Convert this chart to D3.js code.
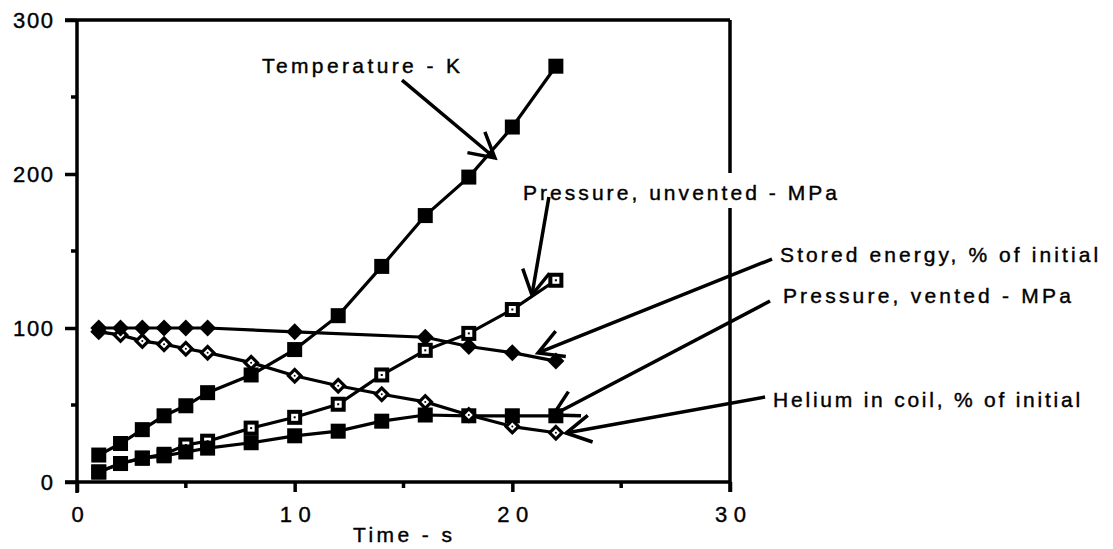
<!DOCTYPE html>
<html lang="en">
<head>
    <meta charset="UTF-8">
    <title>Quench transient - D3.js v7</title>
    <script src="https://d3js.org/d3.v7.min.js"></script>
    <style>
        body {
            margin: 0;
            background: #fff;
        }

        svg text {
            font-family: "Liberation Sans", Arial, Helvetica, sans-serif;
            fill: #000;
            stroke: #000;
            stroke-width: 0.4;
        }

        .frame,
        .arrow {
            stroke: #000;
            stroke-width: 3.5;
            fill: none;
            stroke-linecap: butt;
        }

        .series {
            fill: none;
            stroke: #000;
            stroke-width: 3.2;
        }

        .axis .domain {
            display: none;
        }

        .axis line {
            stroke: #000;
            stroke-width: 3.5;
        }
    </style>
</head>
<body>
    <div id="chart"></div>

    <script>
        // Data (time in s)
        const times = [1, 2, 3, 4, 5, 6, 8, 10, 12, 14, 16, 18, 20, 22];
        const temperature = [17.5, 25, 34, 43, 49.5, 58, 69.5, 86, 108, 140, 173, 198, 230.5, 270];
        const pressureUnvented = [6.5, 12, 15.5, 18, 24, 26.5, 35, 42, 50.5, 69.5, 85.5, 96.5, 112, 131];
        const pressureVented = [6.5, 12, 15.5, 17, 19.5, 22, 25.5, 30, 33, 39.5, 43.5, 43, 43, 43];
        const helium = [97.5, 95.5, 91.5, 89.5, 86.5, 84, 77.5, 69, 62.5, 57, 52, 43.5, 36, 32];
        const energyTimes = [1, 2, 3, 4, 5, 6, 10, 16, 18, 20, 22];
        const storedEnergy = [100, 100, 100, 100, 100, 100, 97.5, 94, 88, 84, 78.5];

        const xTicks = [0, 10, 20, 30];
        const yTicks = [0, 100, 200, 300];
        const xMinor = [5, 15, 25];
        const yMinor = [50, 150, 250];

        // labels and leader arrows, in data units
        const notes = [
            { text: "Temperature - K", lx: 8.5, ly: 265.6, len: 198, from: [14.93, 261], to: [19.2, 210.4] },
            { text: "Pressure, unvented - MPa", lx: 20.49, ly: 183.1, len: 314, from: [21.68, 185.1], to: [20.9, 121.4] },
            { text: "Stored energy, % of initial", lx: 32.3, ly: 142.9, len: 318, from: [31.93, 144.8], to: [21.18, 83.8] },
            { text: "Pressure, vented - MPa", lx: 32.43, ly: 116.2, len: 288, from: [31.84, 117.5], to: [21.87, 43.5] },
            { text: "Helium in coil, % of initial", lx: 31.98, ly: 48.7, len: 307, from: [31.61, 55.2], to: [22.47, 31.8] }
        ];

        const totalWidth = 1113, totalHeight = 549;
        const plot = { left: 77, right: 730, top: 20, bottom: 482 };

        const svg = d3.select("#chart")
            .append("svg")
            .attr("width", totalWidth)
            .attr("height", totalHeight);

        const x = d3.scaleLinear().domain([0, 30]).range([plot.left, plot.right]);
        const y = d3.scaleLinear().domain([0, 300]).range([plot.bottom, plot.top]);

        // axes (ticks + labels), frame drawn separately
        const yAxis = svg.append("g")
            .attr("class", "axis")
            .attr("transform", `translate(${plot.left},0)`)
            .call(d3.axisLeft(y).tickValues(yTicks).tickSize(12).tickPadding(12).tickFormat(d3.format("d")));

        yAxis.selectAll("text")
            .style("font-size", "22px")
            .attr("textLength", d => d === 0 ? null : 40)
            .attr("lengthAdjust", "spacing");

        const xAxis = svg.append("g")
            .attr("class", "axis")
            .attr("transform", `translate(0,${plot.bottom})`)
            .call(d3.axisBottom(x).tickValues(xTicks).tickSize(10).tickPadding(14).tickFormat(d3.format("d")));

        xAxis.selectAll("text")
            .style("font-size", "22px")
            .attr("textLength", d => d === 0 ? null : 31)
            .attr("lengthAdjust", "spacing");

        // minor ticks
        svg.append("g").selectAll("line")
            .data(yMinor)
            .join("line")
            .attr("class", "frame")
            .attr("x1", plot.left - 6).attr("x2", plot.left)
            .attr("y1", d => y(d)).attr("y2", d => y(d));

        svg.append("g").selectAll("line")
            .data(xMinor)
            .join("line")
            .attr("class", "frame")
            .attr("x1", d => x(d)).attr("x2", d => x(d))
            .attr("y1", plot.bottom).attr("y2", plot.bottom + 6);

        // frame: left, bottom, top and a right edge broken by a label
        const unventedNote = notes[1];
        const gapTop = y(unventedNote.ly) - 27, gapBottom = y(unventedNote.ly) + 8;
        const frame = [
            [[x(0), y(300)], [x(0), y(0) + 11]],
            [[x(0) - 12, y(0)], [x(30), y(0)]],
            [[x(0) - 12, y(300)], [x(30), y(300)]],
            [[x(30), y(300)], [x(30), gapTop]],
            [[x(30), gapBottom], [x(30), y(0) + 10]]
        ];
        svg.append("g").selectAll("path")
            .data(frame)
            .join("path")
            .attr("class", "frame")
            .attr("d", d3.line());

        // series
        const zip = (xs, ys) => xs.map((t, i) => ({ t: t, v: ys[i] }));
        const line = d3.line().x(d => x(d.t)).y(d => y(d.v));

        const series = [
            { data: zip(times, temperature), marker: "square" },
            { data: zip(times, pressureUnvented), marker: "openSquare" },
            { data: zip(times, pressureVented), marker: "square" },
            { data: zip(times, helium), marker: "openDiamond" },
            { data: zip(energyTimes, storedEnergy), marker: "diamond" }
        ];

        svg.append("g").selectAll("path")
            .data(series)
            .join("path")
            .attr("class", "series")
            .attr("d", d => line(d.data));

        function drawMarker(g, kind) {
            if (kind === "square" || kind === "openSquare") {
                g.append("rect").attr("x", -7.5).attr("y", -7.5).attr("width", 15).attr("height", 15).attr("fill", "#000");
                if (kind === "openSquare") {
                    g.append("rect").attr("x", -3.5).attr("y", -3.5).attr("width", 7).attr("height", 7).attr("fill", "#fff");
                    g.append("rect").attr("x", -1).attr("y", -1).attr("width", 2).attr("height", 2).attr("fill", "#000");
                }
            } else {
                g.append("rect").attr("x", -6).attr("y", -6).attr("width", 12).attr("height", 12)
                    .attr("transform", "rotate(45)").attr("fill", "#000");
                if (kind === "openDiamond") {
                    g.append("rect").attr("x", -2.8).attr("y", -2.8).attr("width", 5.6).attr("height", 5.6)
                        .attr("transform", "rotate(45)").attr("fill", "#fff");
                    g.append("circle").attr("r", 1).attr("fill", "#000");
                }
            }
        }

        series.forEach(s => {
            svg.append("g").selectAll("g")
                .data(s.data)
                .join("g")
                .attr("transform", d => `translate(${x(d.t)},${y(d.v)})`)
                .each(function () { drawMarker(d3.select(this), s.marker); });
        });

        // annotations
        const barb = 28, spread = 29 * Math.PI / 180;
        notes.forEach(n => {
            svg.append("text")
                .attr("x", x(n.lx))
                .attr("y", y(n.ly))
                .attr("textLength", n.len)
                .attr("lengthAdjust", "spacing")
                .style("font-size", "21px")
                .text(n.text);

            const x0 = x(n.from[0]), y0 = y(n.from[1]);
            const x1 = x(n.to[0]), y1 = y(n.to[1]);
            const ang = Math.atan2(y0 - y1, x0 - x1);
            const head = [-spread, spread].map(a => [x1 + barb * Math.cos(ang + a), y1 + barb * Math.sin(ang + a)]);

            svg.append("path")
                .attr("class", "arrow")
                .attr("d", d3.line()([[x0, y0], [x1, y1]]));
            svg.append("path")
                .attr("class", "arrow")
                .attr("d", d3.line()([head[0], [x1, y1], head[1]]));
        });

        // x axis title
        svg.append("text")
            .attr("x", x(12.68))
            .attr("y", plot.bottom + 60)
            .attr("textLength", 99)
            .attr("lengthAdjust", "spacing")
            .style("font-size", "21px")
            .text("Time - s");
    </script>
</body>
</html>
